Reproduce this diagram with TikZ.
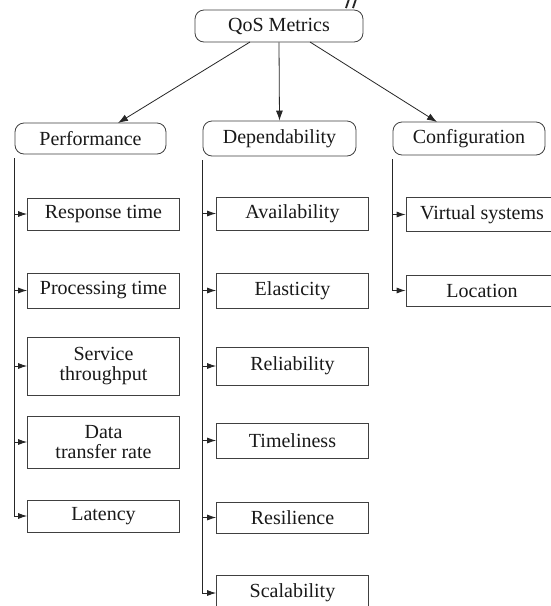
\documentclass[tikz,border=0pt]{standalone}
\usepackage{fontspec}
\setmainfont{Liberation Serif}
\usetikzlibrary{arrows.meta}
\tikzset{
  group/.style={draw=black!75, line width=0.8pt, rounded corners=9pt, fill=white,
    inner sep=0pt, font=\fontsize{20}{20}\selectfont, text=black!90},
  leaf/.style={draw=black!75, line width=0.8pt, fill=white, inner sep=0pt,
    minimum width=152pt, align=center,
    font=\fontsize{20}{20}\selectfont, text=black!90},
  link/.style={draw=black!85, line width=0.8pt, -{Latex[length=10pt,width=7pt]}},
  branch/.style={draw=black!85, line width=0.8pt, -{Latex[length=9pt,width=6pt]}},
}
\begin{document}
\begin{tikzpicture}[x=1pt,y=-1pt]
\path[use as bounding box] (0,0) rectangle (551,606);
\clip (0,0) rectangle (551,606);
\fill[white] (0,0) rectangle (551,606);

% stray pen strokes above the root
\draw[line width=1.8pt, black!85] (346,8) -- (349,-1) (353,8) -- (356,-1);

% root and categories
\node[group, minimum width=168pt, minimum height=32pt] (qos) at (279,26) {QoS Metrics};
\node[group, minimum width=151pt, minimum height=31pt] (perf) at (90.5,138.5) {Performance};
\node[group, minimum width=153pt, minimum height=35pt] (dep) at (279.5,138.5) {Dependability};
\node[group, minimum width=152pt, minimum height=33pt] (conf) at (469,138.5) {Configuration};

\coordinate (qosL) at (250,42);
\coordinate (qosR) at (310,42);
\coordinate (perfTip) at (118,123);
\coordinate (confTip) at (437,122);
\draw[link] (qosL) -- (perfTip);
\draw[link] (qos.south) -- (dep.north);
\draw[link] (qosR) -- (confTip);

% Performance metrics
\node[leaf, minimum height=32pt] (rt) at (103.5,214) {Response time};
\node[leaf, minimum height=35pt] (pt) at (103.5,290.5) {Processing time};
\node[leaf, minimum height=58pt] (st) at (103.5,366) {Service\\throughput};
\node[leaf, minimum height=52pt] (dt) at (103.5,442) {Data\\transfer rate};
\node[leaf, minimum height=32pt] (lat) at (103.5,516) {Latency};

% Dependability metrics
\node[leaf, minimum height=33pt] (av) at (292.5,213.5) {Availability};
\node[leaf, minimum height=35pt] (el) at (292.5,290.5) {Elasticity};
\node[leaf, minimum height=38pt] (rel) at (292.5,366) {Reliability};
\node[leaf, minimum height=35pt] (tl) at (292.5,440.5) {Timeliness};
\node[leaf, minimum height=31pt] (res) at (292.5,517.5) {Resilience};
\node[leaf, minimum height=35pt] (sc) at (292.5,593) {Scalability};

% Configuration metrics
\node[leaf, minimum height=34pt] (vs) at (482,214.5) {Virtual systems};
\node[leaf, minimum height=31pt] (loc) at (482,290.5) {Location};

% trunks running down the left edge of each category
\coordinate (perfTrunk) at ([yshift=-4pt]perf.south west);
\coordinate (depTrunk) at ([yshift=-4pt]dep.south west);
\coordinate (confTrunk) at ([yshift=-4pt]conf.south west);

\foreach \c in {rt,pt,st,dt,lat} \draw[branch] (perfTrunk) |- (\c.west);
\foreach \c in {av,el,rel,tl,res,sc} \draw[branch] (depTrunk) |- (\c.west);
\foreach \c in {vs,loc} \draw[branch] (confTrunk) |- (\c.west);
\end{tikzpicture}
\end{document}
